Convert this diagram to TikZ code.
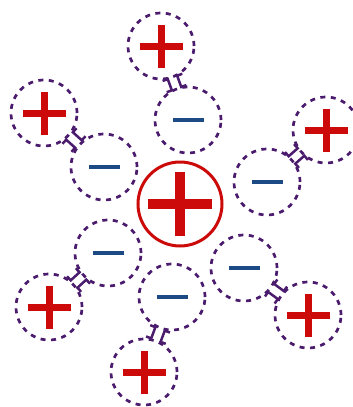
\documentclass[tikz,border=0pt]{standalone}
\usetikzlibrary{calc}
\definecolor{pred}{HTML}{CC0A0A}
\definecolor{mblue}{HTML}{1C4A84}
\definecolor{dpurp}{HTML}{4B1C6E}
\begin{document}
\begin{tikzpicture}[x=1pt,y=-1pt,
  ion/.style={circle, draw=dpurp, line width=2.7pt, dash pattern=on 5pt off 5.5pt, minimum size=66pt, inner sep=0pt},
  pion/.style={ion, path picture={\draw[solid, pred, line width=7pt]
      ([xshift=-21.5pt]path picture bounding box.center) -- ([xshift=21.5pt]path picture bounding box.center)
      ([yshift=-21.5pt]path picture bounding box.center) -- ([yshift=21.5pt]path picture bounding box.center);}},
  mion/.style={ion, path picture={\draw[solid, mblue, line width=4.5pt]
      ([xshift=-15.5pt]path picture bounding box.center) -- ([xshift=15.5pt]path picture bounding box.center);}},
  bigion/.style={circle, draw=pred, line width=3pt, minimum size=84pt, inner sep=0pt,
    path picture={\draw[solid, pred, line width=10pt]
      ([xshift=-32pt]path picture bounding box.center) -- ([xshift=32pt]path picture bounding box.center)
      ([yshift=-32pt]path picture bounding box.center) -- ([yshift=32pt]path picture bounding box.center);}},
  bond/.style={dpurp, line width=2.5pt, to path={let \p1=(\tikztostart), \p2=(\tikztotarget),
      \p3=($(\p1)!0.5!(\p2)$), \n1={atan2(\y2-\y1,\x2-\x1)} in
      ([shift={(\p3)},rotate=\n1]-6,10.5) -- ([shift={(\p3)},rotate=\n1]-6,5) -- ([shift={(\p3)},rotate=\n1]6,5) -- ([shift={(\p3)},rotate=\n1]6,10.5)
      ([shift={(\p3)},rotate=\n1]-6,-10.5) -- ([shift={(\p3)},rotate=\n1]-6,-5) -- ([shift={(\p3)},rotate=\n1]6,-5) -- ([shift={(\p3)},rotate=\n1]6,-10.5)}}
]
\fill[white] (0,0) rectangle (353,407);
\useasboundingbox (0,0) rectangle (353,407);

\node[bigion] (C) at (180,204) {};

\node[mion] (m1) at (188,120) {};
\node[mion] (m2) at (104,167) {};
\node[mion] (m3) at (267,182) {};
\node[mion] (m4) at (108,253) {};
\node[mion] (m5) at (172,297) {};
\node[mion] (m6) at (244,268) {};

\node[pion] (p1) at (161,46) {};
\node[pion] (p2) at (44,113) {};
\node[pion] (p3) at (326,130) {};
\node[pion] (p4) at (49,307) {};
\node[pion] (p5) at (144,372) {};
\node[pion] (p6) at (308,315) {};

\draw[bond] (p1) to (m1);
\draw[bond] (p2) to (m2);
\draw[bond] (p3) to (m3);
\draw[bond] (p4) to (m4);
\draw[bond] (p5) to (m5);
\draw[bond] (p6) to (m6);
\end{tikzpicture}
\end{document}
